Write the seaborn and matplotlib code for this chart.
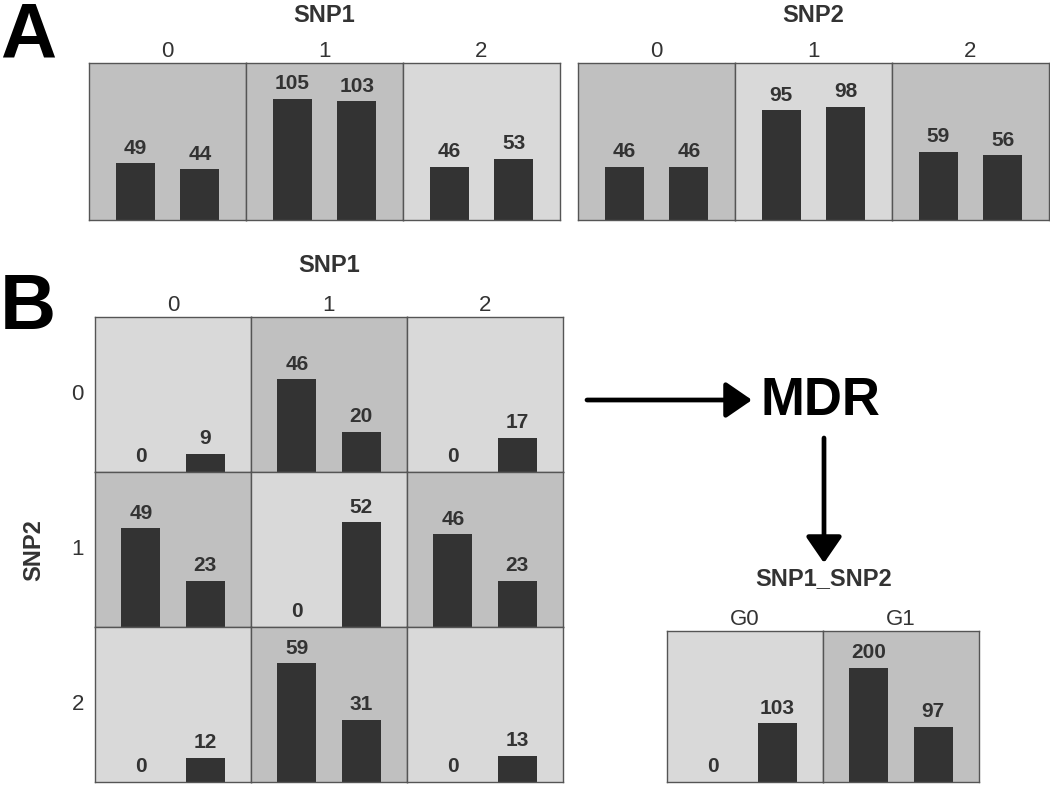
import matplotlib
matplotlib.use("Agg")
import matplotlib.pyplot as plt
import seaborn as sns
import pandas as pd

sns.set_theme(style="white")
plt.rcParams['font.family'] = ['Liberation Sans', 'DejaVu Sans']

# ---------------- data ----------------
genotypes = ["0", "1", "2"]
groups = ["case", "control"]

snp1_case = [49, 105, 46]
snp1_ctrl = [44, 103, 53]
snp2_case = [46, 95, 59]
snp2_ctrl = [46, 98, 56]

# panel B: rows = SNP2 genotype, cols = SNP1 genotype
combo_case = [[0, 46, 0],
              [49, 0, 46],
              [0, 59, 0]]
combo_ctrl = [[9, 20, 17],
              [23, 52, 23],
              [12, 31, 13]]

mdr_labels = ["G0", "G1"]
mdr_case = [0, 200]
mdr_ctrl = [103, 97]

# ---------------- styles ----------------
W, H = 1050, 788
BAR = "#333333"
DARK = "#c0c0c0"
LIGHT = "#d9d9d9"
EDGE = "#555555"
TXT = "#333333"
FS = 15      # bar values
FSH = 17     # bold headers
FST = 16     # category labels

fig = plt.figure(figsize=(W / 100, H / 100), dpi=100)


def rect(x0, y0, x1, y1):
    return [x0 / W, 1 - y1 / H, (x1 - x0) / W, (y1 - y0) / H]


def cell(x0, y0, x1, y1, case, ctrl, ymax, title=None, ylabel=None):
    ax = fig.add_axes(rect(x0, y0, x1, y1))
    df = pd.DataFrame({"group": groups, "n": [case, ctrl]})
    sns.barplot(data=df, x="group", y="n", ax=ax, color=BAR,
                saturation=1, width=0.6, edgecolor="none")
    ax.set_xlim(-0.71, 1.71)
    ax.set_ylim(0, ymax)
    ratio_high = (case / ctrl) >= 1 if ctrl else True
    ax.set_facecolor(DARK if ratio_high else LIGHT)
    for c in ax.containers:
        ax.bar_label(c, padding=4, fontsize=FS, fontweight="bold", color=TXT)
    ax.set_xticks([])
    ax.set_yticks([])
    ax.set_xlabel("")
    ax.set_ylabel("")
    for s in ax.spines.values():
        s.set_visible(True)
        s.set_color(EDGE)
        s.set_linewidth(1)
    if title is not None:
        ax.set_title(title, fontsize=FST, color=TXT, pad=4)
    if ylabel is not None:
        ax.set_ylabel(ylabel, fontsize=FST, color=TXT, rotation=0,
                      labelpad=8, va="center", ha="right")
    return ax


# Panel A, SNP1
x_edges = [89, 246, 403, 560]
for i in range(3):
    cell(x_edges[i], 63, x_edges[i + 1], 220, snp1_case[i], snp1_ctrl[i],
         136, title=genotypes[i])
# Panel A, SNP2
x_edges2 = [578, 735, 892, 1049]
for i in range(3):
    cell(x_edges2[i], 63, x_edges2[i + 1], 220, snp2_case[i], snp2_ctrl[i],
         136, title=genotypes[i])

# Panel B
bx = [95, 251, 407, 563]
by = [317, 472, 627, 782]
for r in range(3):
    for c in range(3):
        cell(bx[c], by[r], bx[c + 1], by[r + 1],
             combo_case[r][c], combo_ctrl[r][c], 77,
             title=genotypes[c] if r == 0 else None,
             ylabel=genotypes[r] if c == 0 else None)

# MDR result
mx = [667, 823, 979]
for i in range(2):
    cell(mx[i], 631, mx[i + 1], 782, mdr_case[i], mdr_ctrl[i], 265,
         title=mdr_labels[i])

# overlay for annotations
ov = fig.add_axes([0, 0, 1, 1], zorder=10)
ov.set_xlim(0, W)
ov.set_ylim(H, 0)
ov.axis("off")
ov.patch.set_alpha(0)

ov.text(0, 37, "A", fontsize=56, fontweight="bold", color="black", va="center", ha="left")
ov.text(0, 308, "B", fontsize=56, fontweight="bold", color="black", va="center", ha="left")
ov.text(324, 15, "SNP1", fontsize=FSH, fontweight="bold", color=TXT, ha="center", va="center")
ov.text(813, 15, "SNP2", fontsize=FSH, fontweight="bold", color=TXT, ha="center", va="center")
ov.text(329, 266, "SNP1", fontsize=FSH, fontweight="bold", color=TXT, ha="center", va="center")
ov.text(34, 550, "SNP2", fontsize=FSH, fontweight="bold", color=TXT, ha="center", va="center", rotation=90)
ov.text(820, 401, "MDR", fontsize=38, fontweight="bold", color="black", ha="center", va="center")
ov.text(824, 579, "SNP1_SNP2", fontsize=FSH, fontweight="bold", color=TXT, ha="center", va="center")

arrow = dict(arrowstyle="-|>,head_length=0.8,head_width=0.55", mutation_scale=20,
             lw=3.4, color="black", shrinkA=0, shrinkB=0, capstyle="round")
ov.annotate("", xy=(752, 400), xytext=(587, 400), arrowprops=arrow)
ov.annotate("", xy=(824, 563), xytext=(824, 438), arrowprops=arrow)

fig.savefig("out.png", dpi=100)
